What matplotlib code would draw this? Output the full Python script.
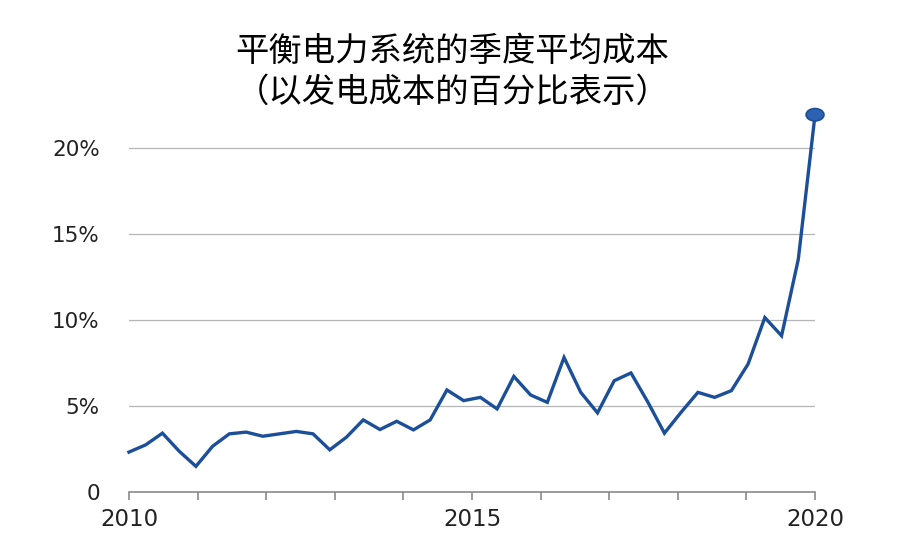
import numpy as np
import matplotlib
matplotlib.use('Agg')
import matplotlib.pyplot as plt
from matplotlib.patches import Ellipse

plt.rcParams['font.family'] = ['Noto Sans CJK SC', 'DejaVu Sans']

title = '平衡电力系统的季度平均成本\n（以发电成本的百分比表示）'

# quarterly cost, % of generation cost (42 quarters, 2010 .. 2020)
cost = [2.34, 2.76, 3.44, 2.39, 1.51, 2.68, 3.40, 3.50, 3.26, 3.40,
        3.54, 3.40, 2.47, 3.21, 4.21, 3.65, 4.13, 3.63, 4.21, 5.95,
        5.33, 5.52, 4.85, 6.74, 5.66, 5.23, 7.84, 5.81, 4.62, 6.49,
        6.94, 5.26, 3.44, 4.66, 5.81, 5.52, 5.91, 7.46, 10.16, 9.10,
        13.55, 21.95]
start_year, end_year = 2010, 2020
year_ticks = list(range(2010, 2021))
year_labels = ['2010', '', '', '', '', '2015', '', '', '', '', '2020']
y_ticks = [0, 5, 10, 15, 20]
y_labels = ['0', '5%', '10%', '15%', '20%']

x = np.linspace(start_year, end_year, len(cost))

line_color = '#1c4f99'
num_font = ['DejaVu Sans']

fig = plt.figure(figsize=(9, 5.58), dpi=100)
ax = fig.add_axes([0.1433, 0.1177, 0.7623, 0.6782])

ax.plot(x, cost, color=line_color, linewidth=2.4, solid_joinstyle='miter',
        clip_on=False, zorder=3)
ax.add_patch(Ellipse((x[-1], cost[-1]), 0.26, 0.72, facecolor='#2d62b3',
                     edgecolor=line_color, linewidth=1.2, clip_on=False, zorder=4))

ax.set_xlim(start_year, end_year)
ax.set_ylim(0, 22)
ax.set_xticks(year_ticks)
ax.set_xticklabels(year_labels, fontsize=16.5, color='#222222', family=num_font)
ax.set_yticks(y_ticks)
ax.set_yticklabels(y_labels, fontsize=15.5, color='#222222', family=num_font)

for v in y_ticks[1:]:
    ax.axhline(v, color='#b5b5b5', linewidth=0.9, zorder=1)

for s in ['top', 'right', 'left']:
    ax.spines[s].set_visible(False)
ax.spines['bottom'].set_color('#8a8a8a')
ax.spines['bottom'].set_linewidth(1.2)
ax.tick_params(axis='x', direction='out', length=6, width=1.2, color='#8a8a8a', pad=5)
ax.tick_params(axis='y', length=0, pad=21)

fig.text(0.503, 0.872, title, ha='center', va='center', fontsize=24,
         linespacing=1.22, color='black')

fig.savefig('out.png', dpi=100)
